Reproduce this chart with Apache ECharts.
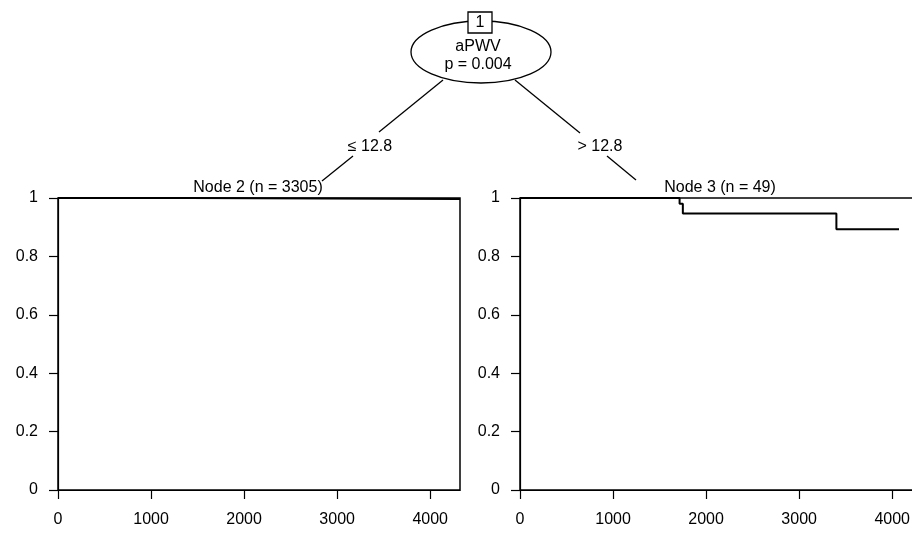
<!DOCTYPE html>
<html>
<head>
<meta charset="utf-8">
<script src="https://cdn.jsdelivr.net/npm/echarts@6/dist/echarts.min.js"></script>
<style>
html,body{margin:0;padding:0;background:#fff;}
#chart{width:912px;height:533px;}
</style>
</head>
<body>
<div id="chart"></div>
<script>
// Tree text
const rootId = '1';
const rootVar = 'aPWV';
const rootP = 'p = 0.004';
const leftEdgeLabel = '\u2264 12.8';
const rightEdgeLabel = '> 12.8';
const nodeLabels = ['Node 2 (n = 3305)', 'Node 3 (n = 49)'];

// Kaplan-Meier curves (time, survival)
const node2Time = [0, 1400, 4320];
const node2Surv = [1, 0.997, 0.997];
const node3Time = [0, 1715, 1750, 3400, 4073];
const node3Surv = [1, 0.980, 0.947, 0.893, 0.893];

// Axis ranges
const xMin = 0, xMax = 4320, xStep = 1000;
const yMin = 0, yMax = 1, yStep = 0.2;

const FONT = '"Liberation Sans", Arial, sans-serif';
const chart = echarts.init(document.getElementById('chart'));

function pairs(t, s) { return t.map((v, i) => [v, s[i]]); }

const xAxisBase = {
  type: 'value', min: xMin, max: xMax, interval: xStep,
  axisLine: { show: true, lineStyle: { color: '#000', width: 1.2 } },
  axisTick: { show: true, length: 9, inside: false, lineStyle: { color: '#000', width: 1.2 } },
  axisLabel: { color: '#000', fontSize: 16, fontFamily: FONT, margin: 22, showMaxLabel: false,
    formatter: v => String(v) },
  splitLine: { show: false }
};
const yAxisBase = {
  type: 'value', min: yMin, max: yMax, interval: yStep,
  axisLine: { show: true, lineStyle: { color: '#000', width: 1.2 } },
  axisTick: { show: true, length: 9, lineStyle: { color: '#000', width: 1.2 } },
  axisLabel: { color: '#000', fontSize: 16, fontFamily: FONT, margin: 20,
    formatter: v => String(Math.round(v * 10) / 10) },
  splitLine: { show: false }
};

const lineStyleTree = { stroke: '#000', lineWidth: 1.3 };
const textStyle = (t) => ({ text: t, fontSize: 16, fontFamily: FONT, fill: '#000', align: 'center', verticalAlign: 'middle' });

const option = {
  animation: false,
  backgroundColor: '#fff',
  grid: [
    { left: 58, top: 198, width: 402, height: 292, show: true, borderColor: '#000', borderWidth: 1.5,
      backgroundColor: 'transparent', outerBoundsMode: 'none', containLabel: false },
    { left: 520, top: 198, width: 402, height: 292, show: true, borderColor: '#000', borderWidth: 1.5,
      backgroundColor: 'transparent', outerBoundsMode: 'none', containLabel: false }
  ],
  xAxis: [
    Object.assign({ gridIndex: 0 }, xAxisBase),
    Object.assign({ gridIndex: 1 }, xAxisBase)
  ],
  yAxis: [
    Object.assign({ gridIndex: 0 }, yAxisBase),
    Object.assign({ gridIndex: 1 }, yAxisBase)
  ],
  series: [
    { type: 'line', xAxisIndex: 0, yAxisIndex: 0, step: 'end', symbol: 'none',
      lineStyle: { color: '#000', width: 2 }, data: pairs(node2Time, node2Surv) },
    { type: 'line', xAxisIndex: 1, yAxisIndex: 1, step: 'end', symbol: 'none',
      lineStyle: { color: '#000', width: 2 }, data: pairs(node3Time, node3Surv) }
  ],
  graphic: [
    { type: 'line', shape: { x1: 443, y1: 80, x2: 379, y2: 132 }, style: lineStyleTree },
    { type: 'line', shape: { x1: 353, y1: 156, x2: 322, y2: 181 }, style: lineStyleTree },
    { type: 'line', shape: { x1: 515, y1: 80, x2: 580, y2: 133 }, style: lineStyleTree },
    { type: 'line', shape: { x1: 607, y1: 156, x2: 636, y2: 180 }, style: lineStyleTree },
    { type: 'ellipse', shape: { cx: 481, cy: 52, rx: 70, ry: 31 },
      style: { fill: '#fff', stroke: '#000', lineWidth: 1.3 } },
    { type: 'rect', shape: { x: 468, y: 12, width: 24, height: 21 },
      style: { fill: '#fff', stroke: '#000', lineWidth: 1.3 } },
    { type: 'text', x: 480, y: 23, style: textStyle(rootId) },
    { type: 'text', x: 478, y: 47, style: textStyle(rootVar) },
    { type: 'text', x: 478, y: 65, style: textStyle(rootP) },
    { type: 'text', x: 370, y: 147, style: textStyle(leftEdgeLabel) },
    { type: 'text', x: 600, y: 147, style: textStyle(rightEdgeLabel) },
    { type: 'text', x: 258, y: 188, style: textStyle(nodeLabels[0]) },
    { type: 'text', x: 720, y: 188, style: textStyle(nodeLabels[1]) }
  ]
};
chart.setOption(option);
</script>
</body>
</html>
